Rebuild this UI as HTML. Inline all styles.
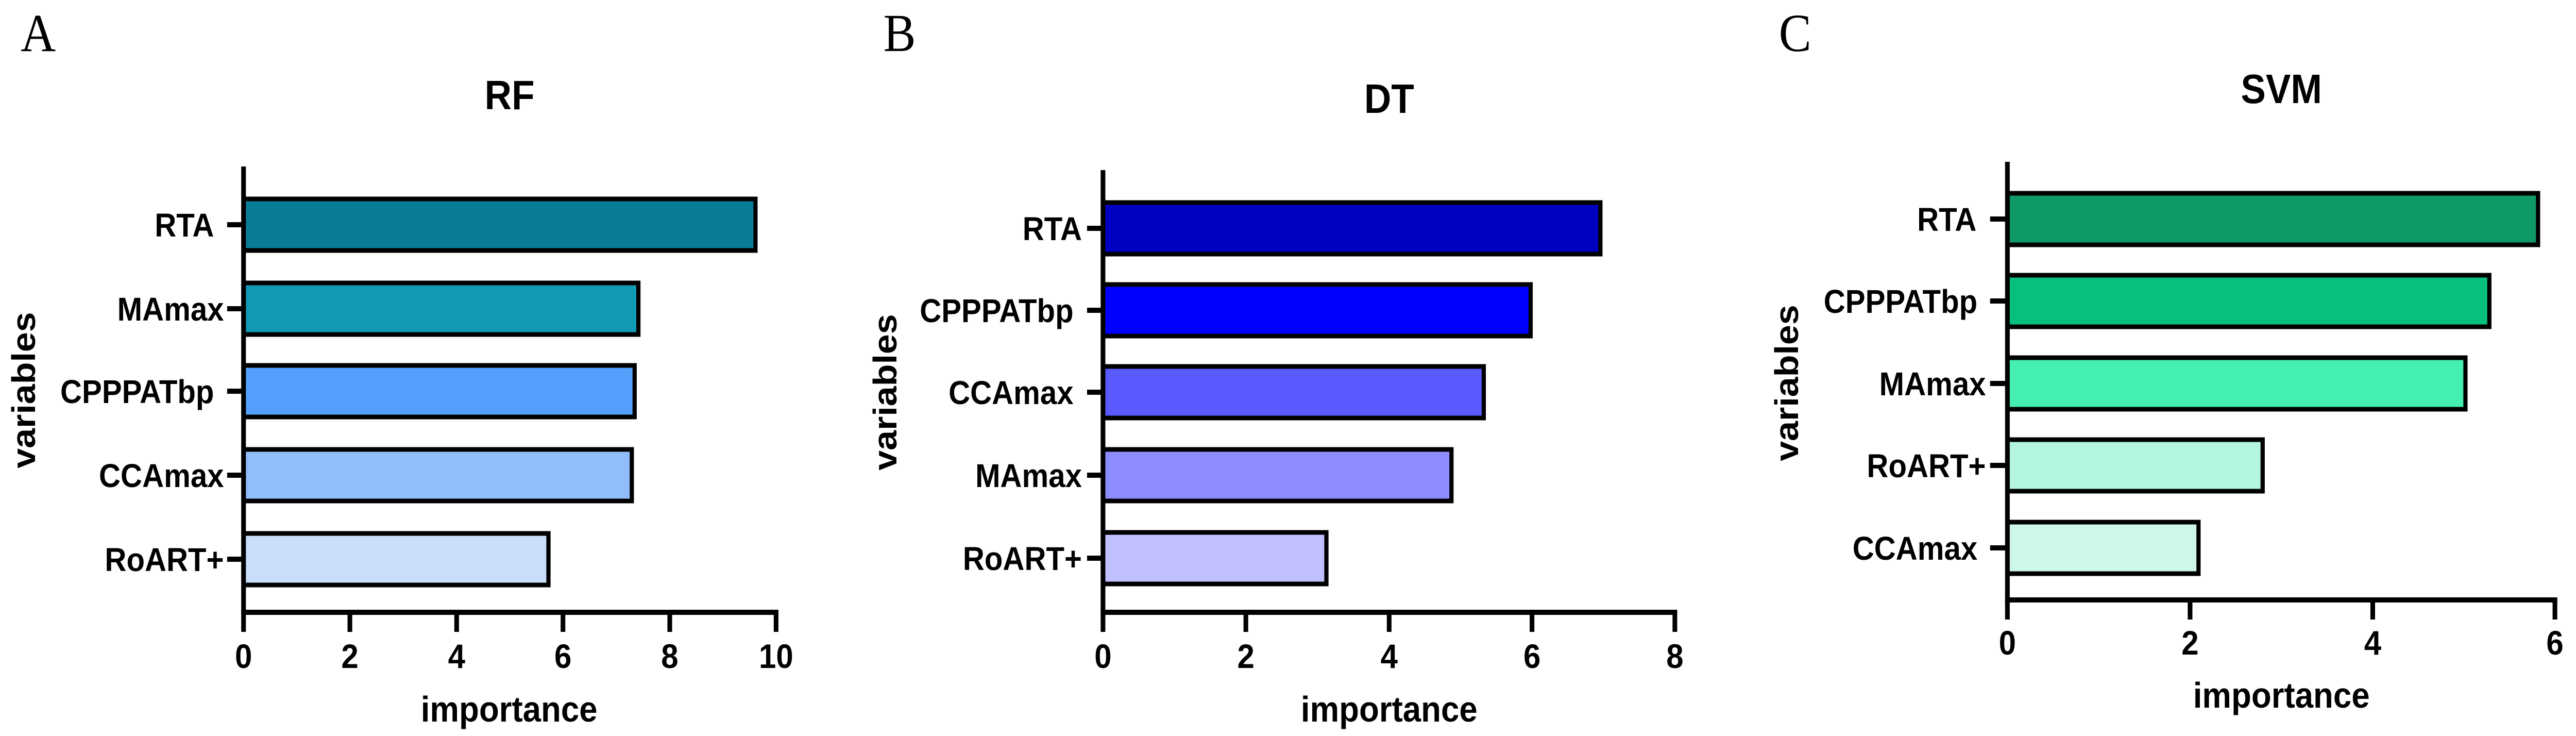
<!DOCTYPE html>
<html><head><meta charset="utf-8"><style>html,body{margin:0;padding:0;background:#fff;overflow:hidden;width:100%;height:100%}svg{display:block;width:100vw;height:100vh}</style></head>
<body>
<svg viewBox="0 0 5500 1428" preserveAspectRatio="none" xmlns="http://www.w3.org/2000/svg" font-family="'Liberation Sans', Arial, sans-serif" font-weight="bold">
<rect width="5500" height="1428" fill="#fff"/>
<g font-family="'Liberation Serif', serif" font-weight="normal" font-size="104" fill="#000">
<text x="44" y="99">A</text>
<text x="1886" y="99">B</text>
<text x="3798" y="99">C</text>
</g>

<!-- Panel A -->
<g stroke="#000" stroke-width="9">
<rect x="520" y="386" width="1093" height="100" fill="#0a7d96"/>
<rect x="520" y="549" width="843" height="100" fill="#1199b5"/>
<rect x="520" y="709" width="835" height="100" fill="#55a0fc"/>
<rect x="520" y="872" width="829" height="100" fill="#91befa"/>
<rect x="520" y="1035" width="651" height="100" fill="#c9defa"/>
</g>
<g stroke="#000" stroke-width="10" fill="none">
<line x1="520" y1="323" x2="520" y2="1193"/>
<line x1="515" y1="1188" x2="1662" y2="1188"/>
<line x1="520" y1="1188" x2="520" y2="1226"/>
<line x1="747" y1="1188" x2="747" y2="1226"/>
<line x1="975" y1="1188" x2="975" y2="1226"/>
<line x1="1202" y1="1188" x2="1202" y2="1226"/>
<line x1="1430" y1="1188" x2="1430" y2="1226"/>
<line x1="1657" y1="1188" x2="1657" y2="1226"/>
<line x1="485" y1="436" x2="520" y2="436"/>
<line x1="485" y1="599" x2="520" y2="599"/>
<line x1="485" y1="759" x2="520" y2="759"/>
<line x1="485" y1="922" x2="520" y2="922"/>
<line x1="485" y1="1085" x2="520" y2="1085"/>
</g>
<g font-size="64" fill="#000" text-anchor="end">
<text x="457" y="459">RTA</text>
<text x="478" y="622">MAmax</text>
<text x="457" y="782">CPPPATbp</text>
<text x="478" y="945">CCAmax</text>
<text x="478" y="1108">RoART+</text>
</g>
<g font-size="66" fill="#000" text-anchor="middle">
<text x="520" y="1296">0</text><text x="747" y="1296">2</text><text x="975" y="1296">4</text>
<text x="1202" y="1296">6</text><text x="1430" y="1296">8</text><text x="1657" y="1296">10</text>
<text x="1087" y="1400" font-size="70">importance</text>
<text x="1088" y="212" font-size="80">RF</text>
<text transform="translate(75,757) rotate(-90)" font-size="70">variables</text>
</g>

<!-- Panel B -->
<g stroke="#000" stroke-width="9">
<rect x="2355" y="393" width="1062" height="100" fill="#0000c0"/>
<rect x="2355" y="552" width="913" height="100" fill="#0000ff"/>
<rect x="2355" y="711" width="813" height="100" fill="#5a5afe"/>
<rect x="2355" y="872" width="744" height="100" fill="#8c8cfe"/>
<rect x="2355" y="1033" width="477" height="100" fill="#c0c0fe"/>
</g>
<g stroke="#000" stroke-width="10" fill="none">
<line x1="2355" y1="330" x2="2355" y2="1193"/>
<line x1="2350" y1="1188" x2="3581" y2="1188"/>
<line x1="2355" y1="1188" x2="2355" y2="1226"/>
<line x1="2660" y1="1188" x2="2660" y2="1226"/>
<line x1="2966" y1="1188" x2="2966" y2="1226"/>
<line x1="3271" y1="1188" x2="3271" y2="1226"/>
<line x1="3576" y1="1188" x2="3576" y2="1226"/>
<line x1="2321" y1="443" x2="2355" y2="443"/>
<line x1="2321" y1="602" x2="2355" y2="602"/>
<line x1="2321" y1="761" x2="2355" y2="761"/>
<line x1="2321" y1="922" x2="2355" y2="922"/>
<line x1="2321" y1="1083" x2="2355" y2="1083"/>
</g>
<g font-size="64" fill="#000" text-anchor="end">
<text x="2310" y="466">RTA</text>
<text x="2292" y="625">CPPPATbp</text>
<text x="2292" y="784">CCAmax</text>
<text x="2310" y="945">MAmax</text>
<text x="2310" y="1106">RoART+</text>
</g>
<g font-size="66" fill="#000" text-anchor="middle">
<text x="2355" y="1296">0</text><text x="2660" y="1296">2</text><text x="2966" y="1296">4</text>
<text x="3271" y="1296">6</text><text x="3576" y="1296">8</text>
<text x="2966" y="1400" font-size="70">importance</text>
<text x="2966" y="219" font-size="80">DT</text>
<text transform="translate(1914,761) rotate(-90)" font-size="70">variables</text>
</g>

<!-- Panel C -->
<g stroke="#000" stroke-width="9">
<rect x="4286" y="375" width="1133" height="100" fill="#0e9966"/>
<rect x="4286" y="534" width="1029" height="100" fill="#08c07d"/>
<rect x="4286" y="694" width="978" height="100" fill="#45efb0"/>
<rect x="4286" y="853" width="545" height="100" fill="#b3f5de"/>
<rect x="4286" y="1013" width="408" height="100" fill="#cdf7e8"/>
</g>
<g stroke="#000" stroke-width="10" fill="none">
<line x1="4286" y1="314" x2="4286" y2="1169"/>
<line x1="4281" y1="1164" x2="5460" y2="1164"/>
<line x1="4286" y1="1164" x2="4286" y2="1202"/>
<line x1="4676" y1="1164" x2="4676" y2="1202"/>
<line x1="5066" y1="1164" x2="5066" y2="1202"/>
<line x1="5455" y1="1164" x2="5455" y2="1202"/>
<line x1="4249" y1="425" x2="4286" y2="425"/>
<line x1="4249" y1="584" x2="4286" y2="584"/>
<line x1="4249" y1="744" x2="4286" y2="744"/>
<line x1="4249" y1="903" x2="4286" y2="903"/>
<line x1="4249" y1="1063" x2="4286" y2="1063"/>
</g>
<g font-size="64" fill="#000" text-anchor="end">
<text x="4220" y="448">RTA</text>
<text x="4222" y="607">CPPPATbp</text>
<text x="4240" y="767">MAmax</text>
<text x="4240" y="926">RoART+</text>
<text x="4222" y="1086">CCAmax</text>
</g>
<g font-size="66" fill="#000" text-anchor="middle">
<text x="4286" y="1270">0</text><text x="4676" y="1270">2</text><text x="5066" y="1270">4</text>
<text x="5455" y="1270">6</text>
<text x="4871" y="1373" font-size="70">importance</text>
<text x="4871" y="200" font-size="80">SVM</text>
<text transform="translate(3839,743) rotate(-90)" font-size="70">variables</text>
</g>
</svg>
</body></html>
